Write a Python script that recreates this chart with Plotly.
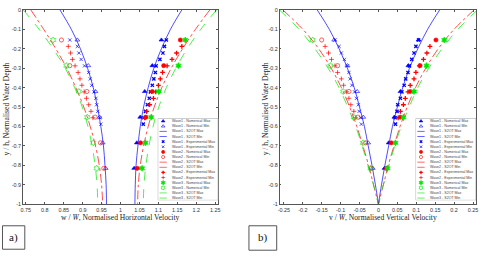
import plotly.graph_objects as go

W, H = 485, 262

# ---------------- depth levels ----------------
y_num = [-0.155, -0.287, -0.42, -0.552, -0.684, -0.815]
y_exp1 = [-0.155, -0.188, -0.222, -0.255, -0.288, -0.322, -0.355, -0.388,
          -0.422, -0.455, -0.488, -0.522, -0.555, -0.588]
y_exp2 = [-0.188, -0.222, -0.255, -0.288, -0.322, -0.355, -0.388, -0.422,
          -0.455, -0.488, -0.522, -0.555]
y_th = [0.0, -0.1, -0.2, -0.3, -0.4, -0.5, -0.6, -0.7, -0.8, -0.9, -1.0]

# ---------------- panel a: horizontal velocity ----------------
a_w1_num_max = [1.108, 1.084, 1.064, 1.052, 1.043, 1.036]
a_w1_num_min = [0.886, 0.915, 0.934, 0.945, 0.953, 0.961]
a_w1_th_max = [1.162, 1.132, 1.108, 1.088, 1.073, 1.061, 1.052, 1.046, 1.041, 1.039, 1.038]
a_w1_th_min = [0.840, 0.870, 0.894, 0.913, 0.928, 0.939, 0.948, 0.955, 0.959, 0.962, 0.963]
a_w1_exp_max = [1.121, 1.116, 1.112, 1.104, 1.094, 1.092, 1.088, 1.084, 1.079,
                1.076, 1.071, 1.066, 1.062, 1.060]
a_w1_exp_min = [0.866, 0.886, 0.890, 0.896, 0.905, 0.916, 0.920, 0.924, 0.930,
                0.935, 0.937, 0.940, 0.945, 0.948]
a_w2_num_max = [1.158, 1.114, 1.084, 1.067, 1.053, 1.044]
a_w2_num_min = [0.844, 0.866, 0.911, 0.933, 0.947, 0.956]
a_w2_th_max = [1.236, 1.198, 1.164, 1.134, 1.109, 1.089, 1.073, 1.061, 1.052, 1.047, 1.045]
a_w2_th_min = [0.763, 0.797, 0.829, 0.858, 0.882, 0.903, 0.920, 0.934, 0.944, 0.950, 0.953]
a_w2_exp_max = [1.162, 1.148, 1.136, 1.123, 1.111, 1.105, 1.100, 1.093, 1.087,
                1.077, 1.069, 1.064]
a_w2_exp_min = [0.862, 0.868, 0.873, 0.880, 0.888, 0.893, 0.898, 0.904, 0.910,
                0.916, 0.922, 0.927]
a_w3_num_max = [1.171, 1.153, 1.101, 1.081, 1.066, 1.057]
a_w3_num_min = [0.822, 0.857, 0.890, 0.912, 0.928, 0.937]
a_w3_th_max = [1.254, 1.212, 1.176, 1.146, 1.121, 1.101, 1.086, 1.075, 1.067, 1.062, 1.060]
a_w3_th_min = [0.743, 0.785, 0.822, 0.854, 0.879, 0.899, 0.914, 0.925, 0.933, 0.938, 0.940]

# ---------------- panel b: vertical velocity ----------------
b_w1_num_max = [0.106, 0.079, 0.058, 0.042, 0.027, 0.016]
b_w1_num_min = [-0.117, -0.082, -0.056, -0.040, -0.027, -0.015]
b_w1_th_max = [0.162, 0.130, 0.104, 0.082, 0.064, 0.050, 0.037, 0.027, 0.017, 0.008, 0.0]
b_w1_th_min = [-0.162, -0.130, -0.104, -0.082, -0.064, -0.050, -0.037, -0.027, -0.017, -0.008, 0.0]
b_w1_exp_max = [0.106, 0.099, 0.094, 0.088, 0.082, 0.078, 0.072, 0.068, 0.062,
                0.058, 0.051, 0.049, 0.044, 0.045]
b_w1_exp_min = [-0.115, -0.104, -0.098, -0.090, -0.082, -0.078, -0.075, -0.070,
                -0.063, -0.058, -0.053, -0.051, -0.047, -0.045]
b_w2_num_max = [0.152, 0.110, 0.084, 0.058, 0.034, 0.021]
b_w2_num_min = [-0.150, -0.108, -0.078, -0.054, -0.034, -0.018]
b_w2_th_max = [0.253, 0.200, 0.158, 0.125, 0.098, 0.076, 0.057, 0.041, 0.026, 0.013, 0.0]
b_w2_th_min = [-0.253, -0.200, -0.158, -0.125, -0.098, -0.076, -0.057, -0.041, -0.026, -0.013, 0.0]
b_w2_exp_max = [0.136, 0.128, 0.119, 0.108, 0.099, 0.094, 0.084, 0.078, 0.071,
                0.066, 0.058, 0.052]
b_w2_exp_min = [-0.141, -0.132, -0.124, -0.115, -0.108, -0.098, -0.092, -0.084,
                -0.078, -0.073, -0.065, -0.060]
b_w3_num_max = [0.174, 0.127, 0.094, 0.066, 0.045, 0.024]
b_w3_num_min = [-0.174, -0.127, -0.093, -0.065, -0.041, -0.021]
b_w3_th_max = [0.262, 0.210, 0.168, 0.133, 0.104, 0.081, 0.060, 0.043, 0.028, 0.013, 0.0]
b_w3_th_min = [-0.262, -0.210, -0.168, -0.133, -0.104, -0.081, -0.060, -0.043, -0.028, -0.013, 0.0]

# ---------------- ticks ----------------
xa_ticks = [0.75, 0.8, 0.85, 0.9, 0.95, 1.0, 1.05, 1.1, 1.15, 1.2, 1.25]
xa_labels = ["0.75", "0.8", "0.85", "0.9", "0.95", "1", "1.05", "1.1", "1.15", "1.2", "1.25"]
xb_ticks = [-0.25, -0.2, -0.15, -0.1, -0.05, 0.0, 0.05, 0.1, 0.15, 0.2, 0.25]
xb_labels = ["-0.25", "-0.2", "-0.15", "-0.1", "-0.05", "0", "0.05", "0.1", "0.15", "0.2", "0.25"]
y_ticks = [0, -0.1, -0.2, -0.3, -0.4, -0.5, -0.6, -0.7, -0.8, -0.9, -1]
y_labels = ["0", "-0.1", "-0.2", "-0.3", "-0.4", "-0.5", "-0.6", "-0.7", "-0.8", "-0.9", "-1"]

names = ["Wave1 - Numerical Max", "Wave1 - Numerical Min", "Wave1 - S2OT Max",
         "Wave1 - S2OT Min", "Wave1 - Experimental Max", "Wave1 - Experimental Min",
         "Wave2 - Numerical Max", "Wave2 - Numerical Min", "Wave2 - S2OT Max",
         "Wave2 - S2OT Min", "Wave2 - Experimental Max", "Wave2 - Experimental Min",
         "Wave3 - Numerical Max", "Wave3 - Numerical Min", "Wave3 - S2OT Max",
         "Wave3 - S2OT Min"]

BLUE, RED, GREEN = "#0000ff", "#ff0000", "#00e600"


def mk(sym, col, size, lw=0.6):
    return dict(mode="markers", marker=dict(symbol=sym, color=col, size=size,
                                            line=dict(color=col, width=lw)))


def ln(col, dash):
    return dict(mode="lines", line=dict(color=col, width=0.7, dash=dash, shape="spline"))


styles = [
    mk("triangle-up", BLUE, 4.2), mk("triangle-up-open", BLUE, 4.2),
    ln(BLUE, "solid"), ln(BLUE, "solid"),
    mk("x-thin-open", BLUE, 3.2, 1.3), mk("x-thin-open", BLUE, 3.2, 0.7),
    mk("circle", RED, 4.2), mk("circle-open", RED, 4.2),
    ln(RED, "dashdot"), ln(RED, "dashdot"),
    mk("cross-thin-open", RED, 3.4, 1.3), mk("cross-thin-open", RED, 3.4, 0.7),
    mk("hexagram", GREEN, 4.6), mk("hexagram-open", GREEN, 4.6),
    ln(GREEN, "dash"), ln(GREEN, "dash"),
]

panel_a = [
    (a_w1_num_max, y_num), (a_w1_num_min, y_num), (a_w1_th_max, y_th), (a_w1_th_min, y_th),
    (a_w1_exp_max, y_exp1), (a_w1_exp_min, y_exp1),
    (a_w2_num_max, y_num), (a_w2_num_min, y_num), (a_w2_th_max, y_th), (a_w2_th_min, y_th),
    (a_w2_exp_max, y_exp2), (a_w2_exp_min, y_exp2),
    (a_w3_num_max, y_num), (a_w3_num_min, y_num), (a_w3_th_max, y_th), (a_w3_th_min, y_th),
]
panel_b = [
    (b_w1_num_max, y_num), (b_w1_num_min, y_num), (b_w1_th_max, y_th), (b_w1_th_min, y_th),
    (b_w1_exp_max, y_exp1), (b_w1_exp_min, y_exp1),
    (b_w2_num_max, y_num), (b_w2_num_min, y_num), (b_w2_th_max, y_th), (b_w2_th_min, y_th),
    (b_w2_exp_max, y_exp2), (b_w2_exp_min, y_exp2),
    (b_w3_num_max, y_num), (b_w3_num_min, y_num), (b_w3_th_max, y_th), (b_w3_th_min, y_th),
]

fig = go.Figure()
# draw lines first, then markers
order = [2, 3, 8, 9, 14, 15, 0, 1, 4, 5, 6, 7, 10, 11, 12, 13]
for xa, ya, data in (("x", "y", panel_a), ("x2", "y2", panel_b)):
    for i in order:
        xs, ys = data[i]
        fig.add_trace(go.Scatter(x=xs, y=ys, name=names[i], showlegend=False,
                                 xaxis=xa, yaxis=ya, cliponaxis=True, **styles[i]))


def px_x(p):
    return p / W


def px_y(p):
    return 1 - p / H


# legend boxes (pixel extents)
leg_boxes = [(157, 218, 118, 202), (417, 478, 118, 202)]
shapes = []
annotations = []
for k, (x0, x1, y0, y1) in enumerate(leg_boxes):
    ax = "x%d" % (3 + k)
    ay = "y%d" % (3 + k)
    shapes.append(dict(type="rect", xref=ax, yref=ay, x0=0, x1=1, y0=0, y1=16,
                       fillcolor="white", line=dict(color="#777", width=0.6), layer="below"))
    for i, nm in enumerate(names):
        st = styles[i]
        yc = i + 0.55
        if st["mode"] == "lines":
            fig.add_trace(go.Scatter(x=[0.03, 0.15], y=[yc, yc], xaxis=ax, yaxis=ay,
                                     showlegend=False, mode="lines",
                                     line=dict(color=st["line"]["color"], width=0.6,
                                               dash=st["line"]["dash"])))
        else:
            m = dict(st["marker"])
            m["size"] = max(2.5, m["size"] * 0.75)
            fig.add_trace(go.Scatter(x=[0.09], y=[yc], xaxis=ax, yaxis=ay,
                                     showlegend=False, mode="markers", marker=m))
        annotations.append(dict(text=nm, xref=ax, yref=ay, x=0.2, y=yc, xanchor="left",
                                yanchor="middle", showarrow=False,
                                font=dict(family="Liberation Sans", size=3.6, color="#444")))

TF = dict(family="Liberation Serif", size=7.6, color="#222")
C = dict(xref="paper", yref="paper", showarrow=False, xanchor="center", yanchor="middle")
# axis titles and panel labels
annotations += [
    dict(text="w / <i>W\u0304</i>, Normalised Horizontal Velocity",
         x=px_x(119), y=px_y(219.5), font=TF, **C),
    dict(text="y / h, Normalised Water Depth", textangle=-90,
         x=px_x(5), y=px_y(108), font=TF, **C),
    dict(text="v / <i>W\u0304</i>, Normalised Vertical Velocity",
         x=px_x(384), y=px_y(219.5), font=TF, **C),
    dict(text="y / h, Normalised Water Depth", textangle=-90,
         x=px_x(266), y=px_y(108), font=TF, **C),
    dict(text="a)", x=px_x(11.5), y=px_y(240), font=dict(family="Liberation Serif", size=11,
                                                           color="#111"), **C),
    dict(text="b)", x=px_x(263), y=px_y(240.5), font=dict(family="Liberation Serif", size=11,
                                                            color="#111"), **C),
]
shapes += [
    dict(type="rect", xref="paper", yref="paper", x0=px_x(0.5), x1=px_x(23),
         y0=px_y(252), y1=px_y(228), line=dict(color="#555", width=1)),
    dict(type="rect", xref="paper", yref="paper", x0=px_x(249), x1=px_x(277),
         y0=px_y(253), y1=px_y(228), line=dict(color="#555", width=1)),
]

TK = dict(family="Liberation Sans", size=5.4, color="#333")
common = dict(showgrid=False, zeroline=False, showline=True, mirror="ticks",
              linecolor="#555", linewidth=0.6, ticks="inside", ticklen=2,
              tickwidth=0.5, tickcolor="#555", tickfont=TK, fixedrange=True)

ya_dom = [px_y(206), px_y(7)]
fig.update_layout(
    width=W, height=H, margin=dict(l=0, r=0, t=0, b=0),
    paper_bgcolor="white", plot_bgcolor="white", showlegend=False,
    xaxis=dict(domain=[px_x(21), px_x(218)], range=[0.742, 1.258], anchor="y",
               tickvals=xa_ticks, ticktext=xa_labels, **common),
    yaxis=dict(domain=ya_dom, range=[-1, 0], anchor="x",
               tickvals=y_ticks, ticktext=y_labels, **common),
    xaxis2=dict(domain=[px_x(280), px_x(478)], range=[-0.261, 0.258], anchor="y2",
                tickvals=xb_ticks, ticktext=xb_labels, **common),
    yaxis2=dict(domain=ya_dom, range=[-1, 0], anchor="x2",
                tickvals=y_ticks, ticktext=y_labels, **common),
    xaxis3=dict(domain=[px_x(157), px_x(218)], range=[0, 1], anchor="y3", visible=False,
                fixedrange=True),
    yaxis3=dict(domain=[px_y(202), px_y(118)], range=[16, 0], anchor="x3", visible=False,
                fixedrange=True),
    xaxis4=dict(domain=[px_x(417), px_x(478)], range=[0, 1], anchor="y4", visible=False,
                fixedrange=True),
    yaxis4=dict(domain=[px_y(202), px_y(118)], range=[16, 0], anchor="x4", visible=False,
                fixedrange=True),
    shapes=shapes, annotations=annotations,
)

fig.write_html("out.html")
